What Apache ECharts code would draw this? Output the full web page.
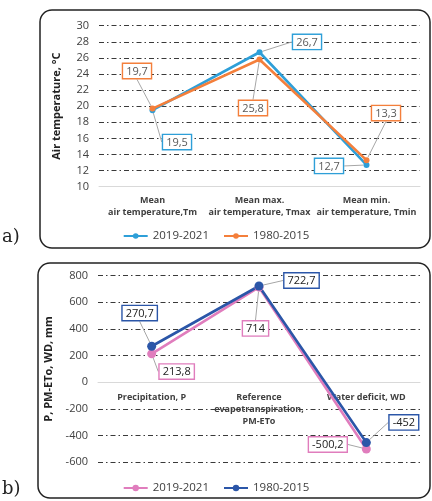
<!DOCTYPE html>
<html><head><meta charset="utf-8">
<script src="https://cdn.jsdelivr.net/npm/echarts@6/dist/echarts.min.js"></script>
<style>html,body{margin:0;padding:0;background:#fff}#c{width:432px;height:501px}</style>
</head><body><div id="c"></div>
<script>
// ---- data ----
var catsA = ['Mean\nair temperature,Tm', 'Mean max.\nair temperature, Tmax', 'Mean min.\nair temperature, Tmin'];
var tempRecent = [19.5, 26.7, 12.7];   // 2019-2021
var tempLong = [19.7, 25.8, 13.3];     // 1980-2015
var catsB = ['Precipitation, P', 'Reference\nevapotranspiration,\nPM-ETo', 'Water deficit, WD'];
var waterRecent = [213.8, 714, -500.2]; // 2019-2021
var waterLong = [270.7, 722.7, -452];   // 1980-2015
var seriesNames = ['2019-2021', '1980-2015'];

// ---- label offsets (layout only) ----
var offA0 = [[24.5, 41.8], [47.5, -0.3], [-37.5, 11]];
var offA1 = [[-15.5, -27.6], [-6.5, 58.5], [19.5, -37.1]];
var offB0 = [[25, 29.2], [-3.5, 52.8], [-38.5, 7]];
var offB1 = [[-12, -21.7], [42.5, 6], [37.5, -8.6]];

var FONT = 'Open Sans';
var grid = '#3a3a3a';
function fmt(p) { return String(p.value).replace('.', ','); }
function mkSeries(name, data, color, xi, off, txtColor, sym) {
  return {
    type: 'line', name: name, data: data, xAxisIndex: xi, yAxisIndex: xi,
    symbol: 'circle', symbolSize: sym, color: color,
    lineStyle: { width: 2.6, color: color },
    itemStyle: { color: color },
    label: {
      show: true, position: 'top', distance: 0, formatter: fmt,
      fontFamily: FONT, fontSize: 11, color: txtColor,
      backgroundColor: '#fff', borderColor: color, borderWidth: 1.4,
      padding: [2, 3, 1, 3]
    },
    labelLine: { show: true, lineStyle: { color: '#a6a6a6', width: 1 } },
    labelLayout: function (p) { var o = off[p.dataIndex]; return { dx: o[0], dy: o[1] }; },
    emphasis: { disabled: true }, animation: false
  };
}
function splitColors(n, hideIdx) {
  var a = []; for (var i = 0; i < n; i++) a.push(i === hideIdx ? 'rgba(0,0,0,0)' : grid); return a;
}
var axisLabelY = { fontFamily: FONT, fontSize: 11, color: '#404040', margin: 10 };
var axisLabelX = { fontFamily: FONT, fontSize: 9, fontWeight: 'bold', color: '#404040', lineHeight: 12, interval: 0 };
var dashDot = [5, 3, 1.5, 3];
var gridB = { top: 275.7, height: 186.6, min: -600, max: 800 };
var zeroShift = -gridB.height * (0 - gridB.min) / (gridB.max - gridB.min);

var chart = echarts.init(document.getElementById('c'));
chart.setOption({
  animation: false,
  grid: [
    { left: 99, right: 12, top: 25.7, height: 161 },
    { left: 98, right: 12, top: gridB.top, height: gridB.height }
  ],
  xAxis: [
    { gridIndex: 0, type: 'category', data: catsA, axisTick: { show: false },
      axisLine: { lineStyle: { color: '#d9d9d9' } }, axisLabel: Object.assign({ margin: 8 }, axisLabelX) },
    { gridIndex: 1, type: 'category', data: catsB, axisTick: { show: false }, offset: zeroShift,
      axisLine: { onZero: false, lineStyle: { color: '#d9d9d9' } }, axisLabel: Object.assign({ margin: 9 }, axisLabelX) }
  ],
  yAxis: [
    { gridIndex: 0, type: 'value', min: 10, max: 30, interval: 2,
      name: 'Air temperature, °C', nameLocation: 'middle', nameGap: 37,
      nameTextStyle: { fontFamily: FONT, fontSize: 11, fontWeight: 'bold', color: '#222' },
      axisLabel: axisLabelY, axisLine: { show: false }, axisTick: { show: false },
      splitLine: { show: true, lineStyle: { color: splitColors(11, 0), type: dashDot, width: 1 } } },
    { gridIndex: 1, type: 'value', min: gridB.min, max: gridB.max, interval: 200,
      name: 'P, PM-ETo, WD, mm', nameLocation: 'middle', nameGap: 42,
      nameTextStyle: { fontFamily: FONT, fontSize: 11, fontWeight: 'bold', color: '#222' },
      axisLabel: axisLabelY, axisLine: { show: false }, axisTick: { show: false },
      splitLine: { show: true, lineStyle: { color: splitColors(8, 3), type: dashDot, width: 1 } } }
  ],
  legend: [
    { top: 225, left: 'center', itemWidth: 24, itemHeight: 7, itemGap: 14,
      textStyle: { fontFamily: FONT, fontSize: 11.5, color: '#404040' },
      data: ['a-0', 'a-1'], formatter: function (n) { return seriesNames[+n.slice(2)]; } },
    { top: 477, left: 'center', itemWidth: 24, itemHeight: 8, itemGap: 14,
      textStyle: { fontFamily: FONT, fontSize: 11.5, color: '#404040' },
      data: ['b-0', 'b-1'], formatter: function (n) { return seriesNames[+n.slice(2)]; } }
  ],
  series: [
    mkSeries('a-0', tempRecent, '#2e9fd8', 0, offA0, '#595959', 6),
    mkSeries('a-1', tempLong, '#f47f3b', 0, offA1, '#595959', 6),
    mkSeries('b-0', waterRecent, '#e07dbd', 1, offB0, '#222', 9),
    mkSeries('b-1', waterLong, '#2b56a8', 1, offB1, '#222', 9)
  ],
  graphic: [
    { type: 'rect', shape: { x: 40, y: 10, width: 390, height: 238, r: 12 }, style: { fill: 'none', stroke: '#222', lineWidth: 1.5 }, z: -1 },
    { type: 'rect', shape: { x: 38, y: 263, width: 392, height: 235, r: 12 }, style: { fill: 'none', stroke: '#222', lineWidth: 1.5 }, z: -1 },
    { type: 'text', left: 2, top: 228, style: { text: 'a)', font: '18px "DejaVu Serif"', fill: '#222' } },
    { type: 'text', left: 2, top: 480, style: { text: 'b)', font: '18px "DejaVu Serif"', fill: '#222' } }
  ]
});
</script></body></html>
